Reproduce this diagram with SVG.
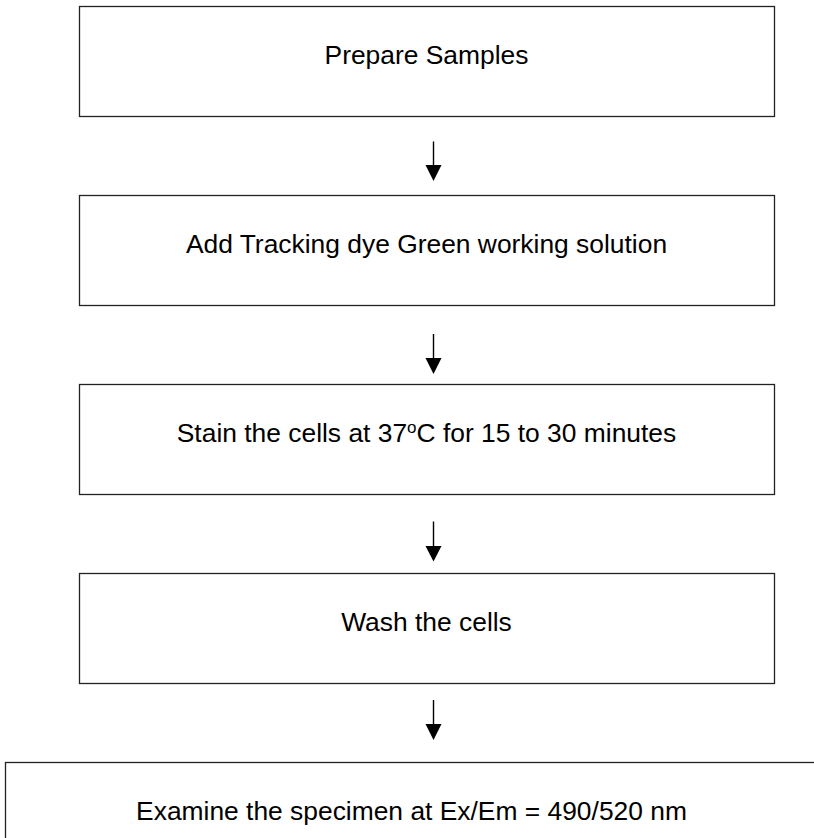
<svg xmlns="http://www.w3.org/2000/svg" width="814" height="838" viewBox="0 0 814 838">
<style>
.box{fill:#fff;stroke:#222;stroke-width:1.3}
.lbl{font-family:"Liberation Sans",Arial,sans-serif;font-size:26.4px;fill:#000;text-anchor:middle}
.conn line{stroke:#000;stroke-width:1.4}
.conn polygon{fill:#000}
</style>
<rect width="814" height="838" fill="#fff"/>
<g id="node1"><rect class="box" x="79.5" y="6.5" width="695" height="110"/><text class="lbl" x="426.5" y="64">Prepare Samples</text></g>
<g id="node2"><rect class="box" x="79.5" y="195.5" width="695" height="110"/><text class="lbl" x="426.5" y="253">Add Tracking dye Green working solution</text></g>
<g id="node3"><rect class="box" x="79.5" y="384.5" width="695" height="110"/><text class="lbl" x="426.5" y="442">Stain the cells at 37<tspan font-size="17" dy="-9">o</tspan><tspan dy="9">C for 15 to 30 minutes</tspan></text></g>
<g id="node4"><rect class="box" x="79.5" y="573.5" width="695" height="110"/><text class="lbl" x="426.5" y="631">Wash the cells</text></g>
<g id="node5"><rect class="box" x="5.5" y="762.5" width="813" height="110"/><text class="lbl" x="411.5" y="820">Examine the specimen at Ex/Em = 490/520 nm</text></g>
<g id="connectors" class="conn">
<line x1="433.5" y1="141.5" x2="433.5" y2="167"/><polygon points="425.5,165 441.5,165 433.5,181"/>
<line x1="433.5" y1="334" x2="433.5" y2="360"/><polygon points="425.5,358 441.5,358 433.5,374"/>
<line x1="433.5" y1="521.5" x2="433.5" y2="548"/><polygon points="425.5,546 441.5,546 433.5,561.5"/>
<line x1="433.5" y1="700" x2="433.5" y2="726"/><polygon points="425.5,724 441.5,724 433.5,740"/>
</g>
</svg>
